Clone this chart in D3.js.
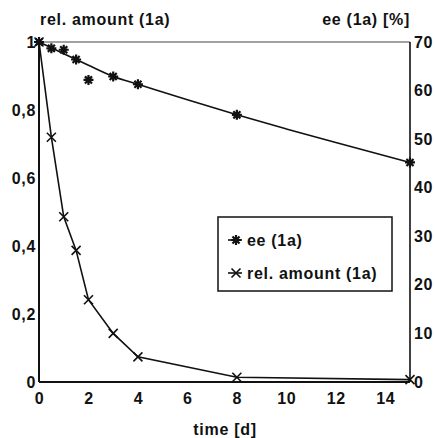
<!DOCTYPE html>
<html>
<head>
<meta charset="utf-8">
<script src="https://cdn.jsdelivr.net/npm/d3@7"></script>
<style>
  body { margin: 0; background: #fff; }
  svg { display: block; font-family: "Liberation Sans", Arial, sans-serif; }
  .lbl { font-weight: 700; font-size: 16px; fill: #111; letter-spacing: 0.7px; }
</style>
</head>
<body>
<div id="chart"></div>
<script>
// time [d] for each measurement
const days = [0, 0.5, 1, 1.5, 2, 3, 4, 8, 15]
// ee (1a) in %, right axis
const eeValues = [70, 68.7, 68.4, 66.4, 62.2, 62.9, 61.3, 55.0, 45.2]
// relative amount of 1a, left axis
const relAmount = [1.0, 0.72, 0.486, 0.387, 0.242, 0.143, 0.074, 0.014, 0.007]
// fitted curve drawn through the ee points
const eeFitDays = [0, 1, 2, 3, 4, 6, 8, 10, 12, 15]
const eeFitValues = [70, 67.6, 65.2, 62.9, 61.3, 58.1, 55.0, 52.1, 49.3, 45.2]

const xTicks = [0, 2, 4, 6, 8, 10, 12, 14]
const leftTicks = [0, 0.2, 0.4, 0.6, 0.8, 1]
const rightTicks = [0, 10, 20, 30, 40, 50, 60, 70]

const W = 435, H = 438
const m = { top: 42, right: 25, bottom: 56, left: 39 }

const svg = d3.select("#chart").append("svg")
  .attr("width", W).attr("height", H)

const x = d3.scaleLinear().domain([0, 15]).range([m.left, W - m.right])
const yL = d3.scaleLinear().domain([0, 1]).range([H - m.bottom, m.top])
const yR = d3.scaleLinear().domain([0, 70]).range([H - m.bottom, m.top])

// axes, no tick marks, just labels
const fmtLeft = d => d === 0 ? "0" : d === 1 ? "1" : d.toFixed(1).replace(".", ",")

const gx = svg.append("g").attr("transform", `translate(0,${H - m.bottom})`)
  .call(d3.axisBottom(x).tickValues(xTicks).tickSize(0).tickPadding(11))
const gl = svg.append("g").attr("transform", `translate(${m.left},0)`)
  .call(d3.axisLeft(yL).tickValues(leftTicks).tickFormat(fmtLeft).tickSize(0).tickPadding(3))
const gr = svg.append("g").attr("transform", `translate(${W - m.right},0)`)
  .call(d3.axisRight(yR).tickValues(rightTicks).tickSize(0).tickPadding(4))

;[gx, gl, gr].forEach(g => {
  g.select(".domain").remove()
  g.selectAll("text").attr("class", "lbl").attr("fill", null).style("font-family", null)
})

// frame
const x0 = x(0), x1 = x(15), y0 = yL(0), y1 = yL(1)
svg.append("line").attr("x1", x0).attr("x2", x1).attr("y1", y1).attr("y2", y1)
  .attr("stroke", "#444").attr("stroke-width", 1.2)
svg.append("line").attr("x1", x0).attr("x2", x0).attr("y1", y1).attr("y2", y0)
  .attr("stroke", "#111").attr("stroke-width", 2)
svg.append("line").attr("x1", x0).attr("x2", x1).attr("y1", y0).attr("y2", y0)
  .attr("stroke", "#111").attr("stroke-width", 2.2)
svg.append("line").attr("x1", x1).attr("x2", x1).attr("y1", y1).attr("y2", y0)
  .attr("stroke", "#111").attr("stroke-width", 1.6)

// axis titles
svg.append("text").attr("class", "lbl").attr("x", 40).attr("y", 25).text("rel. amount (1a)")
svg.append("text").attr("class", "lbl").attr("x", 410).attr("y", 25)
  .attr("text-anchor", "end").text("ee (1a) [%]")
svg.append("text").attr("class", "lbl").attr("x", 225).attr("y", 435)
  .attr("text-anchor", "middle").text("time [d]")

// ee fit curve
const eeFit = eeFitDays.map((d, i) => ({ t: d, v: eeFitValues[i] }))
svg.append("path").datum(eeFit)
  .attr("fill", "none").attr("stroke", "#111").attr("stroke-width", 1.6)
  .attr("d", d3.line().x(d => x(d.t)).y(d => yR(d.v)).curve(d3.curveMonotoneX))

// rel amount polyline
const rel = days.map((d, i) => ({ t: d, v: relAmount[i] }))
svg.append("path").datum(rel)
  .attr("fill", "none").attr("stroke", "#111").attr("stroke-width", 1.6)
  .attr("d", d3.line().x(d => x(d.t)).y(d => yL(d.v)))

// marker shapes
function star(g, cx, cy, r) {
  const p = d3.path()
  for (let k = 0; k < 4; k++) {
    const a = k * Math.PI / 4
    p.moveTo(cx - r * Math.cos(a), cy - r * Math.sin(a))
    p.lineTo(cx + r * Math.cos(a), cy + r * Math.sin(a))
  }
  g.append("path").attr("d", p.toString()).attr("stroke", "#111").attr("stroke-width", 2.2)
}
function cross(g, cx, cy, r) {
  const p = d3.path()
  p.moveTo(cx - r, cy - r); p.lineTo(cx + r, cy + r)
  p.moveTo(cx - r, cy + r); p.lineTo(cx + r, cy - r)
  g.append("path").attr("d", p.toString()).attr("stroke", "#111").attr("stroke-width", 1.6)
}

const marks = svg.append("g")
days.forEach((d, i) => star(marks, x(d), yR(eeValues[i]), 5))
days.forEach((d, i) => cross(marks, x(d), yL(relAmount[i]), 4.5))

// legend
const lg = svg.append("g")
lg.append("rect").attr("x", 218).attr("y", 217).attr("width", 174).attr("height", 74)
  .attr("fill", "#fff").attr("stroke", "#111").attr("stroke-width", 1.5)
const legendItems = [
  { label: "ee (1a)", y: 240, mark: star, r: 5 },
  { label: "rel. amount (1a)", y: 273, mark: cross, r: 4.5 }
]
legendItems.forEach(it => {
  lg.append("line").attr("x1", 228).attr("x2", 242).attr("y1", it.y).attr("y2", it.y)
    .attr("stroke", "#111").attr("stroke-width", 1.6)
  it.mark(lg, 236, it.y, it.r)
  lg.append("text").attr("class", "lbl").attr("x", 247).attr("y", it.y + 6).text(it.label)
})
</script>
</body>
</html>
